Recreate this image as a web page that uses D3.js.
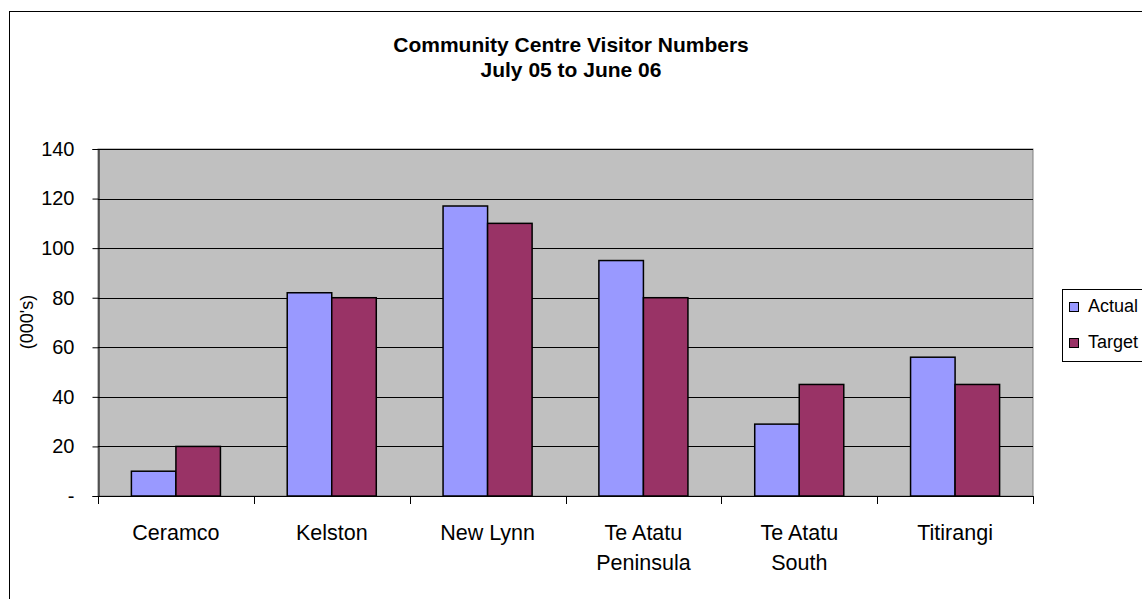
<!DOCTYPE html>
<html>
<head>
<meta charset="utf-8">
<script src="https://cdn.jsdelivr.net/npm/d3@7"></script>
<style>
	body { margin: 0; background: #fff; }
	svg { display: block; font-family: "Liberation Sans", Arial, sans-serif; }
</style>
</head>
<body>
<svg width="1142" height="599"></svg>
<script>

	var centres = ["Ceramco", "Kelston", "New Lynn", "Te Atatu Peninsula", "Te Atatu South", "Titirangi"];
	var series_names = ["Actual", "Target"];
	var actual_values = [10, 82, 117, 95, 29, 56];
	var target_values = [20, 80, 110, 80, 45, 45];
	var y_ticks = [0, 20, 40, 60, 80, 100, 120, 140];
	var series_colors = ["#9999ff", "#993366"];

	var chart = (function(){

		var svg = d3.select("svg");
		var plot = { left: 98, right: 1033, top: 149, bottom: 496 };

		var x = d3.scaleBand().domain(centres).range([plot.left, plot.right]).paddingInner(0).paddingOuter(0);
		// excel style gap width 150% -> outer padding of 0.75 bar each side
		var x_series = d3.scaleBand().domain(series_names).range([0, x.bandwidth()]).paddingInner(0).paddingOuter(0.75);
		var y = d3.scaleLinear().domain([0, 140]).range([plot.bottom, plot.top]);

		function split_label(name){
			// long names go on two lines, break at the last space
			if(name.length <= 10){ return [name]; }
			var i = name.lastIndexOf(" ");
			return [name.slice(0, i), name.slice(i + 1)];
		}

		function draw(){

			// chart area border, runs off the right and bottom
			svg.append("rect")
				.attr("x", 9.5).attr("y", 11.5)
				.attr("width", 1200).attr("height", 700)
				.attr("fill", "#fff").attr("stroke", "#000");

			// title
			var title = svg.append("text")
				.attr("text-anchor", "middle")
				.attr("font-weight", "bold")
				.attr("font-size", 21);
			title.append("tspan").attr("x", 571).attr("y", 52).text("Community Centre Visitor Numbers");
			title.append("tspan").attr("x", 571).attr("y", 77).text("July 05 to June 06");

			// plot area
			svg.append("rect")
				.attr("x", plot.left).attr("y", plot.top)
				.attr("width", plot.right - plot.left).attr("height", plot.bottom - plot.top)
				.attr("fill", "#c0c0c0").attr("stroke", "#808080");

			// gridlines
			svg.append("g").selectAll("line")
				.data(y_ticks.filter(function(d){ return d > 0; }))
				.enter().append("line")
				.attr("x1", plot.left).attr("x2", plot.right)
				.attr("y1", function(d){ return Math.round(y(d)) + 0.5; })
				.attr("y2", function(d){ return Math.round(y(d)) + 0.5; })
				.attr("stroke", "#000");

			// bars
			var groups = svg.append("g").selectAll("g")
				.data(centres)
				.enter().append("g")
				.attr("transform", function(d){ return "translate(" + x(d) + ",0)"; });

			groups.selectAll("rect")
				.data(function(d, i){
					return [
						{ series: series_names[0], value: actual_values[i], color: series_colors[0] },
						{ series: series_names[1], value: target_values[i], color: series_colors[1] }
					];
				})
				.enter().append("rect")
				.attr("x", function(d){ return x_series(d.series); })
				.attr("y", function(d){ return y(d.value); })
				.attr("width", x_series.bandwidth())
				.attr("height", function(d){ return y(0) - y(d.value); })
				.attr("fill", function(d){ return d.color; })
				.attr("stroke", "#000")
				.attr("stroke-width", 1.5);

			// y axis
			var y_axis = svg.append("g")
				.attr("transform", "translate(" + (plot.left + 0.5) + ",0)")
				.call(d3.axisLeft(y)
					.tickValues(y_ticks)
					.tickSize(6)
					.tickPadding(18)
					.tickFormat(function(d){ return d === 0 ? "-" : d; }));
			y_axis.select(".domain").attr("stroke", "#000");
			y_axis.selectAll("text").attr("font-size", 20).attr("fill", "#000").attr("font-family", null);

			// x axis, ticks on the category boundaries
			var x_axis = svg.append("g");
			x_axis.append("line")
				.attr("x1", plot.left).attr("x2", plot.right)
				.attr("y1", plot.bottom + 0.5).attr("y2", plot.bottom + 0.5)
				.attr("stroke", "#000");
			var bounds = centres.map(function(d){ return x(d); }).concat([plot.right]);
			x_axis.selectAll("line.tick")
				.data(bounds)
				.enter().append("line")
				.attr("class", "tick")
				.attr("x1", function(d){ return Math.round(d) + 0.5; })
				.attr("x2", function(d){ return Math.round(d) + 0.5; })
				.attr("y1", plot.bottom).attr("y2", plot.bottom + 8)
				.attr("stroke", "#000");

			var labels = x_axis.selectAll("text")
				.data(centres)
				.enter().append("text")
				.attr("text-anchor", "middle")
				.attr("font-size", 21.5);
			labels.selectAll("tspan")
				.data(function(d){
					return split_label(d).map(function(line){ return { line: line, centre: d }; });
				})
				.enter().append("tspan")
				.attr("x", function(d){ return x(d.centre) + x.bandwidth() / 2; })
				.attr("y", function(d, i){ return 540 + i * 30; })
				.text(function(d){ return d.line; });

			// axis title
			svg.append("text")
				.attr("transform", "translate(33,322) rotate(-90)")
				.attr("text-anchor", "middle")
				.attr("font-size", 18)
				.text("(000's)");

			// legend
			var legend = svg.append("g");
			legend.append("rect")
				.attr("x", 1062.5).attr("y", 289.5)
				.attr("width", 120).attr("height", 72)
				.attr("fill", "#fff").attr("stroke", "#000");
			var items = legend.selectAll("g")
				.data(series_names)
				.enter().append("g")
				.attr("transform", function(d, i){ return "translate(1069," + (302 + i * 36) + ")"; });
			items.append("rect")
				.attr("x", 0.5).attr("y", 0.5)
				.attr("width", 9).attr("height", 9)
				.attr("fill", function(d, i){ return series_colors[i]; })
				.attr("stroke", "#000");
			items.append("text")
				.attr("x", 19).attr("y", 10)
				.attr("font-size", 18)
				.text(function(d){ return d; });
		}

		draw();

		return null;

	})();

</script>
</body>
</html>
